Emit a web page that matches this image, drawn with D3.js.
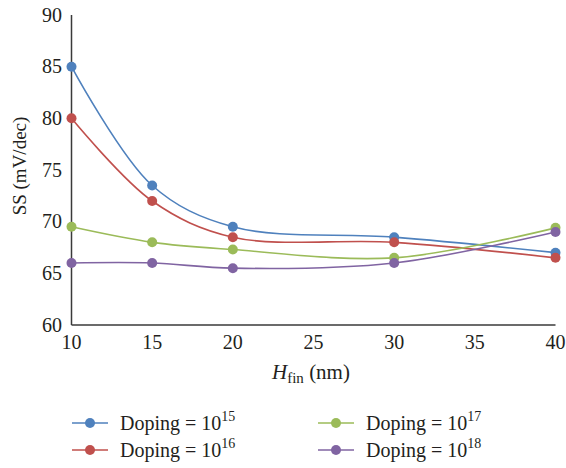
<!DOCTYPE html>
<html>
<head>
<meta charset="utf-8">
<script src="https://cdn.jsdelivr.net/npm/d3@7"></script>
<style>
  svg text { font-family: "Liberation Serif", "Times New Roman", Times, serif !important; }
</style>
</head>
<body style="margin:0; background:#fff">
<svg width="566" height="468"></svg>
<script>
var width = 566, height = 468;
var serif = "'Liberation Serif', 'Times New Roman', serif";
var ink = "#231f20";

// data
var hfin = [10, 15, 20, 30, 40];
var doping15 = [85, 73.5, 69.5, 68.5, 67];
var doping16 = [80, 72, 68.5, 68, 66.5];
var doping17 = [69.5, 68, 67.3, 66.5, 69.4];
var doping18 = [66, 66, 65.5, 66, 69];
var xTicks = [10, 15, 20, 25, 30, 35, 40];
var yTicks = [60, 65, 70, 75, 80, 85, 90];
var seriesNames = ["15", "16", "17", "18"];
var seriesColors = ["#4f81bd", "#c0504d", "#9bbb59", "#8064a2"];

var series = [doping15, doping16, doping17, doping18].map(function(v, i) {
  return { exp: seriesNames[i], color: seriesColors[i],
           pts: v.map(function(y, j) { return { x: hfin[j], y: y }; }) };
});

var svg = d3.select("svg");

var x = d3.scaleLinear().domain([10, 40]).range([71.5, 555.5]);
var y = d3.scaleLinear().domain([60, 90]).range([325, 15]);

// axis lines
svg.append("line")
  .attr("x1", x(10)).attr("x2", x(10)).attr("y1", y(90)).attr("y2", y(60))
  .attr("stroke", "#3a3a3a").attr("stroke-width", 1.5);
svg.append("line")
  .attr("x1", x(10)).attr("x2", x(40)).attr("y1", y(60)).attr("y2", y(60))
  .attr("stroke", "#3a3a3a").attr("stroke-width", 1.5);

// tick labels
svg.append("g").selectAll("text")
  .data(yTicks).enter().append("text")
  .attr("x", 62)
  .attr("y", function(d) { return y(d) + 6.5; })
  .attr("text-anchor", "end")
  .style("font-family", serif).style("fill", ink)
  .style("font-size", "20px")
  .text(function(d) { return d; });

svg.append("g").selectAll("text")
  .data(xTicks).enter().append("text")
  .attr("x", function(d) { return x(d); })
  .attr("y", 349)
  .attr("text-anchor", "middle")
  .style("font-family", serif).style("fill", ink)
  .style("font-size", "20px")
  .text(function(d) { return d; });

// axis titles
svg.append("text")
  .attr("transform", "translate(26,166) rotate(-90)")
  .attr("text-anchor", "middle")
  .style("font-family", serif).style("fill", ink)
  .style("font-size", "19px")
  .text("SS (mV/dec)");

var xt = svg.append("text")
  .attr("x", 311).attr("y", 379)
  .attr("text-anchor", "middle")
  .style("font-family", serif).style("fill", ink)
  .style("font-size", "21px");
xt.append("tspan").style("font-style", "italic").text("H");
xt.append("tspan").style("font-size", "15px").attr("dy", 4).text("fin");
xt.append("tspan").attr("dy", -4).text(" (nm)");

// lines
var line = d3.line()
  .x(function(d) { return x(d.x); })
  .y(function(d) { return y(d.y); })
  .curve(d3.curveCatmullRom.alpha(0.5));

var g = svg.append("g").selectAll("g")
  .data(series).enter().append("g");

g.append("path")
  .attr("d", function(d) { return line(d.pts); })
  .attr("fill", "none")
  .attr("stroke", function(d) { return d.color; })
  .attr("stroke-width", 1.6);

g.selectAll("circle")
  .data(function(d) { return d.pts.map(function(p) { return { p: p, c: d.color }; }); })
  .enter().append("circle")
  .attr("cx", function(d) { return x(d.p.x); })
  .attr("cy", function(d) { return y(d.p.y); })
  .attr("r", 5)
  .attr("fill", function(d) { return d.c; });

// legend
var legend = svg.append("g").selectAll("g")
  .data(series).enter().append("g")
  .attr("transform", function(d, i) {
    var col = i < 2 ? 0 : 1, row = i % 2;
    return "translate(" + (72 + col * 246) + "," + (423 + row * 27) + ")";
  });

legend.append("line")
  .attr("x1", 0).attr("x2", 36)
  .attr("stroke", function(d) { return d.color; })
  .attr("stroke-width", 1.6);
legend.append("circle")
  .attr("cx", 18).attr("r", 5)
  .attr("fill", function(d) { return d.color; });

var lt = legend.append("text")
  .attr("x", 48).attr("y", 6.5)
  .style("font-family", serif).style("fill", ink)
  .style("font-size", "20px");
lt.append("tspan").text("Doping = 10");
lt.append("tspan").attr("dy", -9).style("font-size", "14px").text(function(d) { return d.exp; });
</script>
</body>
</html>
